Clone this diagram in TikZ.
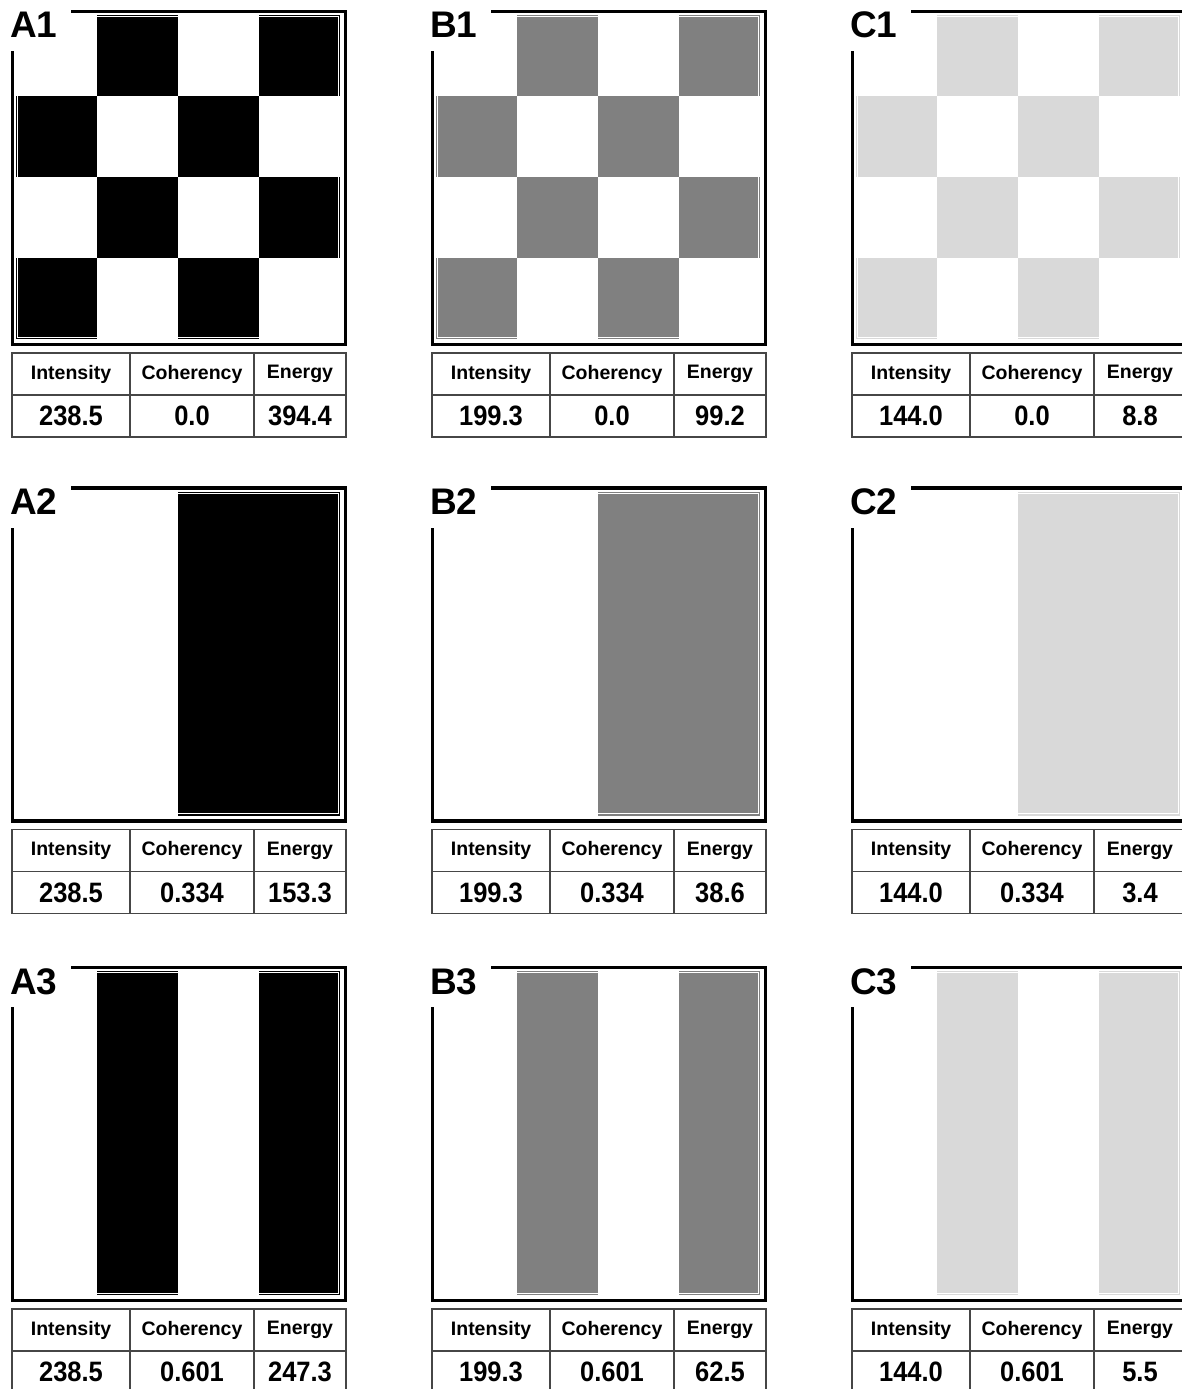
\documentclass[tikz,border=0pt]{standalone}
\usepackage{fontspec}
\setmainfont{Liberation Sans}
\usepackage{graphicx}
\usetikzlibrary{positioning}
\usepackage{xcolor}
\definecolor{tonegray}{RGB}{128,128,128}
\definecolor{palegray}{RGB}{217,217,217}
\definecolor{rulegray}{RGB}{70,70,70}
\tikzset{
  frame/.style = {line width=3.5pt,line cap=rect},
  gap/.style   = {draw=white,line width=1.2pt},
  tag/.style   = {anchor=base west,inner sep=0pt,
                  font=\bfseries\fontsize{37}{37}\selectfont},
  cell/.style  = {draw=rulegray,line width=1.2pt,inner sep=0pt,outer sep=0pt,
                  minimum height=42pt,anchor=north west},
  head/.style  = {cell,font=\bfseries\fontsize{19.5}{20}\selectfont},
  val/.style   = {cell,font=\bfseries\fontsize{25.5}{26}\selectfont},
}
% #1,#2 origin  #3 tag  #4 colour  #5 pattern  #6-#8 table values
\newcommand{\tilepanel}[8]{%
  \begin{scope}[shift={(#1,#2)}]
    \ifcase#5\or
      \foreach \i in {0,...,3}{\foreach \j in {0,...,3}{
        \pgfmathtruncatemacro{\odd}{mod(\i+\j,2)}
        \ifnum\odd=1 \fill[#4] (3.5+81*\i,3.5+81*\j) rectangle ++(81,81);\fi}}
    \or
      \fill[#4] (165.5,3.5) rectangle (327.5,327.5);
    \or
      \fill[#4] (84.5,3.5) rectangle (165.5,327.5);
      \fill[#4] (246.5,3.5) rectangle (327.5,327.5);
    \fi
    \draw[gap] (5.3,5.3) rectangle (325.7,325.7);
    \draw[frame] (60,0) -- (333,0) -- (333,333) -- (0,333) -- (0,41.5);
    \node[tag] (#3) at (-2.5,26.5) {#3};
    % table
    \node[head,minimum width=118pt] (#3int) at (-0.5,341.5) {Intensity};
    \node[head,minimum width=124pt,right=0pt of #3int] (#3coh) {Coherency};
    \node[head,minimum width=92pt,right=0pt of #3coh] (#3egy) {Energy};
    \node[val,minimum width=118pt,below=0pt of #3int] (#3intv) {\scalebox{1}[1.1]{#6}};
    \node[val,minimum width=124pt,below=0pt of #3coh] (#3cohv) {\scalebox{1}[1.1]{#7}};
    \node[val,minimum width=92pt,below=0pt of #3egy] (#3egyv) {\scalebox{1}[1.1]{#8}};
  \end{scope}}

\begin{document}
\begin{tikzpicture}[x=1pt,y=-1pt]
  \useasboundingbox[fill=white] (0,0) rectangle (1181,1389);

  % checkerboards
  \tilepanel{12.5}{11.5}{A1}{black}{1}{238.5}{0.0}{394.4}
  \tilepanel{432.5}{11.5}{B1}{tonegray}{1}{199.3}{0.0}{99.2}
  \tilepanel{852.5}{11.5}{C1}{palegray}{1}{144.0}{0.0}{8.8}

  % half fields
  \tilepanel{12.5}{488}{A2}{black}{2}{238.5}{0.334}{153.3}
  \tilepanel{432.5}{488}{B2}{tonegray}{2}{199.3}{0.334}{38.6}
  \tilepanel{852.5}{488}{C2}{palegray}{2}{144.0}{0.334}{3.4}

  % stripes
  \tilepanel{12.5}{967.5}{A3}{black}{3}{238.5}{0.601}{247.3}
  \tilepanel{432.5}{967.5}{B3}{tonegray}{3}{199.3}{0.601}{62.5}
  \tilepanel{852.5}{967.5}{C3}{palegray}{3}{144.0}{0.601}{5.5}
\end{tikzpicture}
\end{document}
